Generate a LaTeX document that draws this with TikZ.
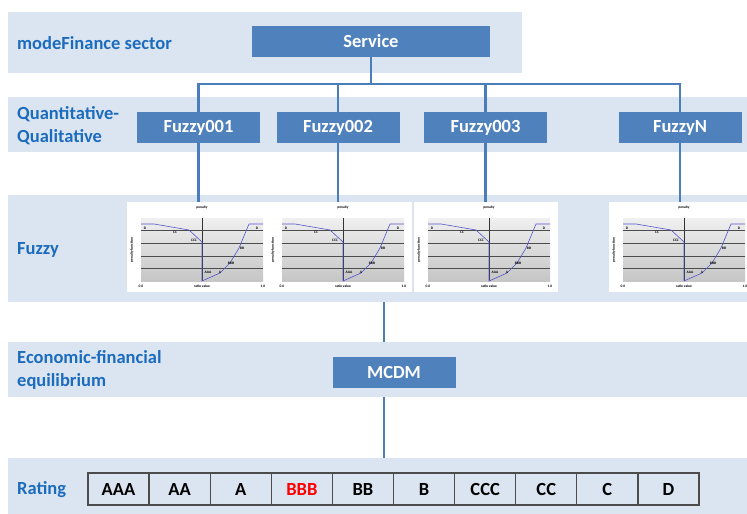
\documentclass[tikz,border=0pt]{standalone}
\usepackage{fontspec}
\setmainfont{Carlito}
\usetikzlibrary{positioning,calc}
\definecolor{bandbg}{RGB}{219,229,241}
\definecolor{boxblue}{RGB}{79,129,189}
\definecolor{linkblue}{RGB}{74,126,187}
\definecolor{lblblue}{RGB}{28,108,190}
\definecolor{curveblue}{RGB}{85,85,205}
\newcommand{\bigfont}{\fontsize{18.5}{23}\selectfont\bfseries}
\newcommand{\chartfont}{\fontsize{3.6}{4}\selectfont\bfseries}
\tikzset{
  band/.style   ={fill=bandbg, inner sep=0pt, anchor=north west},
  lbl/.style    ={text=lblblue, font=\bigfont, anchor=west, align=left, inner sep=0pt},
  blk/.style    ={fill=boxblue, text=white, font=\bigfont, inner sep=0pt,
                  minimum width=123, minimum height=31},
  link/.style   ={draw=linkblue, line width=2.2pt},
  cell/.style   ={draw=black!70, line width=1.3pt, minimum width=61.1, minimum height=32,
                  inner sep=0pt, outer sep=0pt, anchor=west, font=\bigfont},
  chartbg/.style={fill=white, inner sep=0pt, outer sep=0pt, anchor=north west,
                  minimum width=144, minimum height=90},
  clbl/.style   ={font=\chartfont, inner sep=0.3pt},
  fuzzychart/.pic={
    \node[chartbg] (-bg) at (-14,-16) {};
    \shade[top color=gray!12, bottom color=gray!45] (0,0) rectangle (122,63);
    \foreach \g in {12.6,25.2,37.8,50.4}
      \draw[black!70, line width=0.4pt] (0,\g) -- (122,\g);
    \draw[black!80, line width=0.5pt] (61,0) -- (61,63);
    \draw[curveblue, line width=0.6pt] (0,6) -- (13,6) -- (48,12) -- (61,24) -- (61,63)
      -- (79,55) -- (89,45) -- (98,30) -- (108,6) -- (122,6);
    \node[clbl] (-ttl) at (61,-10) {penalty};
    \node[clbl, rotate=90] (-ylab) at (-9,32) {penalty function};
    \node[clbl] (-x0) at (0,68) {0.0};
    \node[clbl] (-xlab) at (61,68) {ratio value};
    \node[clbl] (-x1) at (122,68) {1.0};
    \node[clbl] (-d1) at (4,10) {D};
    \node[clbl] (-cc) at (34,14) {CC};
    \node[clbl] (-ccc) at (53,22) {CCC};
    \node[clbl] (-aaa) at (67,54) {AAA};
    \node[clbl] (-a) at (79,54) {A};
    \node[clbl] (-bbb) at (90,45) {BBB};
    \node[clbl] (-bb) at (101,30) {BB};
    \node[clbl] (-d2) at (116,10) {D};
  },
}

\begin{document}
\begin{tikzpicture}[x=1pt,y=-1pt]
\useasboundingbox (0,0) rectangle (747,514);

% background bands
\node[band, minimum width=514, minimum height=61]  (secband) at (8,12) {};
\node[band, minimum width=739, minimum height=55]  (qqband)  at (8,97) {};
\node[band, minimum width=739, minimum height=107] (fzband)  at (8,195) {};
\node[band, minimum width=739, minimum height=55]  (eqband)  at (8,342) {};
\node[band, minimum width=739, minimum height=56]  (rtband)  at (8,458) {};

\node[lbl] (seclbl) at (17,43)  {modeFinance sector};
\node[lbl] (qqlbl)  at (17,126) {Quantitative-\\Qualitative};
\node[lbl] (fzlbl)  at (17,250) {Fuzzy};
\node[lbl] (eqlbl)  at (17,370) {Economic-financial\\equilibrium};
\node[lbl] (rtlbl)  at (17,490) {Rating};

% boxes
\node[blk, minimum width=238] (svc) at (371,41.5) {Service};
\node[blk] (f1) at (198.5,127.5) {Fuzzy001};
\node[blk] (f2) at (338,127.5)   {Fuzzy002};
\node[blk] (f3) at (485.5,127.5) {Fuzzy003};
\node[blk] (fn) at (680,127.5)   {FuzzyN};
\node[blk] (mcdm) at (394,372.5) {MCDM};

% charts
\pic (ch1) at (141,218) {fuzzychart};
\pic (ch2) at (282,218) {fuzzychart};
\pic (ch3) at (428,218) {fuzzychart};
\pic (chn) at (623,218) {fuzzychart};

% tree
\coordinate (bus) at (0,84);
\coordinate (eqx) at (384,0);
\draw[link] (svc) -- (svc |- bus);
\draw[link] (f1) -- (f1 |- bus) -- (fn |- bus) -- (fn);
\draw[link] (f2) -- (f2 |- bus);
\draw[link] (f3) -- (f3 |- bus);
\foreach \k in {1,2,3,n}
  \draw[link] (f\k) -- (f\k |- ch\k-bg.north);
\draw[link] (fzband.south -| eqx) -- (eqband.north -| eqx);
\draw[link] (eqband.south -| eqx) -- (rtband.north -| eqx);

% rating scale
\foreach \r/\c [count=\i] in {AAA/black,AA/black,A/black,BBB/red,BB/black,B/black,CCC/black,CC/black,C/black,D/black}
  \node[cell, text=\c] (r\i) at ({88+61.1*(\i-1)},489) {\r};
\end{tikzpicture}
\end{document}
